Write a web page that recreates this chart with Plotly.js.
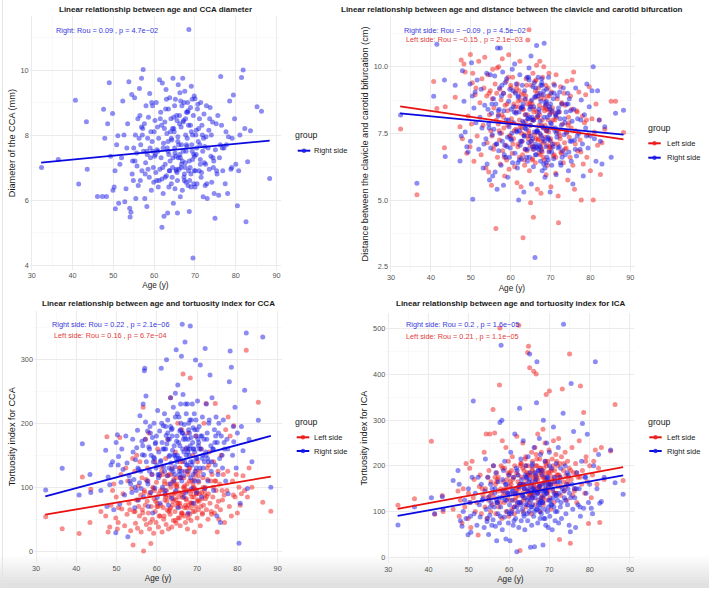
<!DOCTYPE html>
<html>
<head>
<meta charset="utf-8">
<script src="https://cdn.plot.ly/plotly-3.0.1.min.js"></script>
<style>html,body{margin:0;padding:0;background:#fff}#chart{width:709px;height:590px}</style>
</head>
<body>
<div id="chart"></div>
<script>
// ---------------- DATA ----------------
const age = [
 32.4, 36.5, 40.7, 41.5, 43.4, 43.6, 46.1, 47.3, 47.6, 47.9,
 48.3, 48.6, 49.0, 49.3, 49.8, 49.9, 50.2, 50.5, 50.8, 51.1,
 51.3, 51.6, 52.0, 52.3, 52.6, 52.8, 53.1, 53.5, 53.8, 54.0,
 54.1, 54.3, 54.5, 54.7, 54.9, 55.0, 55.2, 55.4, 55.5, 55.7,
 55.8, 56.0, 56.1, 56.3, 56.4, 56.6, 56.7, 56.9, 57.0, 57.2,
 57.3, 57.4, 57.6, 57.7, 57.9, 58.0, 58.2, 58.3, 58.5, 58.6,
 58.8, 58.9, 59.0, 59.2, 59.3, 59.5, 59.6, 59.8, 59.9, 60.1,
 60.2, 60.4, 60.5, 60.7, 60.8, 61.0, 61.1, 61.3, 61.4, 61.6,
 61.7, 61.9, 62.0, 62.2, 62.3, 62.4, 62.6, 62.7, 62.9, 63.0,
 63.1, 63.3, 63.4, 63.5, 63.7, 63.8, 63.9, 64.1, 64.2, 64.3,
 64.5, 64.6, 64.7, 64.8, 65.0, 65.1, 65.2, 65.3, 65.5, 65.6,
 65.7, 65.8, 65.9, 66.1, 66.2, 66.3, 66.4, 66.5, 66.7, 66.8,
 66.9, 67.0, 67.1, 67.2, 67.3, 67.5, 67.6, 67.7, 67.8, 67.9,
 68.0, 68.2, 68.3, 68.4, 68.5, 68.6, 68.8, 68.9, 69.0, 69.1,
 69.2, 69.3, 69.5, 69.6, 69.7, 69.9, 70.0, 70.1, 70.3, 70.4,
 70.5, 70.7, 70.8, 71.0, 71.1, 71.3, 71.4, 71.6, 71.7, 71.9,
 72.0, 72.2, 72.3, 72.5, 72.7, 72.8, 73.0, 73.2, 73.4, 73.5,
 73.7, 73.9, 74.1, 74.3, 74.5, 74.7, 74.9, 75.0, 75.2, 75.4,
 75.6, 75.8, 76.0, 76.3, 76.5, 76.8, 77.1, 77.4, 77.7, 78.0,
 78.2, 78.5, 78.8, 79.1, 79.4, 79.7, 80.0, 80.4, 80.7, 81.0,
 81.4, 81.8, 82.2, 82.5, 82.9, 83.6, 85.2, 86.3, 88.3,
 63.6, 64.9, 65.4, 66.0, 66.6, 67.4, 68.1, 68.7, 69.4, 70.2,
 60.9, 62.5, 64.4, 65.9, 67.7, 69.8, 71.2, 72.6, 74.0, 76.7,
 55.3, 56.5, 57.8, 58.4, 59.4, 60.3, 61.2, 61.8, 62.1, 62.8,
 63.2, 63.6, 64.0, 64.6, 65.0, 65.4, 65.8, 66.3, 66.7, 67.1,
 67.4, 67.8, 68.2, 68.6, 69.0, 69.4, 69.8, 70.3, 70.9, 71.5,
 72.1, 72.9, 73.6, 74.4, 75.3, 76.2, 77.6, 79.0, 50.4, 53.3,
 57.1, 59.1, 60.6, 61.5, 62.2, 63.0, 63.8, 64.5, 65.1, 65.7,
 66.2, 66.9, 67.3, 67.9, 68.4, 68.9, 69.3, 70.0, 70.6, 71.3,
 58.2, 60.0, 62.7, 64.2, 65.6, 66.6, 68.3, 69.7, 71.8, 74.6,
 54.6, 56.9, 59.7, 61.9, 63.4, 64.8, 66.4, 67.6, 69.1, 72.4
];

// Panel 1: CCA diameter (mm), right side
const ccaDiameterRight = [
 7.0, 7.25, 9.07, 6.49, 8.41, 6.95, 6.11, 6.11, 8.79, 7.9,
 6.11, 8.35, 9.61, 7.35, 8.66, 6.3, 6.4, 5.73, 7.7, 7.98,
 5.9, 7.1, 7.3, 9.05, 8.0, 5.95, 6.35, 8.35, 9.64, 5.75,
 5.48, 5.62, 9.25, 7.2, 6.6, 7.6, 9.15, 8.0, 6.05, 7.45,
 7.05, 8.5, 6.45, 7.9, 9.43, 6.6, 7.7, 9.75, 6.9, 8.2,
 10.02, 7.5, 8.35, 6.05, 7.15, 8.9, 5.8, 7.4, 6.95, 8.55,
 6.7, 9.28, 7.6, 8.1, 6.3, 7.8, 8.9, 7.0, 6.55, 7.35,
 8.45, 6.85, 9.0, 7.55, 8.25, 6.4, 7.9, 9.7, 6.95, 8.7,
 7.3, 5.16, 9.6, 6.2, 7.75, 5.5, 8.4, 7.1, 9.4, 6.75,
 8.05, 5.6, 7.5, 8.8, 6.9, 9.15, 7.2, 8.5, 6.5, 7.85,
 7.0, 9.75, 5.9, 8.2, 7.6, 6.35, 9.1, 7.35, 8.6, 6.85,
 5.6, 7.95, 9.55, 6.95, 8.35, 7.4, 6.1, 9.05, 7.7, 8.9,
 6.3, 9.75, 7.5, 8.45, 6.7, 9.35, 7.15, 8.0, 6.55, 8.7,
 7.65, 9.0, 6.45, 8.3, 11.25, 5.65, 7.0, 8.85, 6.4, 9.5,
 7.7, 9.1, 4.22, 8.6, 6.5, 7.35, 9.12, 6.9, 8.15, 7.6,
 6.5, 8.95, 7.8, 6.9, 8.5, 7.25, 9.0, 6.85, 8.3, 7.5,
 6.1, 8.65, 7.15, 6.45, 7.95, 8.9, 6.05, 7.6, 8.15, 6.95,
 8.85, 7.35, 6.55, 8.4, 7.0, 6.2, 5.44, 7.55, 8.35, 6.8,
 8.6, 6.15, 7.3, 9.8, 8.3, 6.9, 7.6, 6.5, 7.7, 6.2,
 7.95, 9.05, 6.95, 7.9, 9.23, 8.5, 7.1, 5.82, 6.9, 8.0,
 9.77, 10.0, 8.2, 5.33, 7.18, 8.13, 8.87, 8.73, 6.66,
 7.4, 8.1, 6.95, 7.7, 8.25, 6.8, 7.9, 6.6, 7.25, 8.0,
 7.5, 8.2, 6.7, 7.3, 8.5, 6.9, 7.7, 7.1, 8.0, 7.6,
 7.2, 8.6, 6.8, 7.9, 9.0, 7.4, 6.6, 8.3, 7.0, 8.8,
 7.6, 6.4, 8.1, 7.3, 8.9, 6.9, 7.8, 9.3, 7.1, 8.4,
 6.6, 7.5, 8.7, 7.2, 6.8, 8.0, 9.2, 7.4, 8.2, 6.7,
 7.9, 6.5, 8.5, 7.3, 6.9, 7.7, 8.1, 7.0, 6.9, 7.6,
 8.0, 7.3, 6.6, 8.5, 7.6, 9.1, 6.9, 8.2, 7.45, 6.6,
 8.6, 7.2, 9.0, 7.7, 6.9, 8.3, 7.5, 6.4, 8.8, 7.1,
 7.5, 8.1, 6.7, 7.9, 8.45, 7.0, 8.75, 7.4, 8.0, 7.2,
 6.8, 8.25, 7.5, 6.65, 7.8, 8.55, 7.3, 7.0, 8.1, 7.65
];

// Panel 2: distance clavicle - carotid bifurcation (cm)
const clavBifRight = [
 8.19, 5.63, 8.89, 10.84, 9.5, 6.63, 9.3, 6.46, 7.4, 9.85,
 8.7, 7.55, 7.0, 6.8, 9.35, 7.2, 10.15, 5.03, 8.45, 9.05,
 7.9, 9.5, 6.9, 8.1, 9.15, 7.7, 6.2, 8.55, 7.3, 9.75,
 6.35, 8.4, 7.85, 5.75, 9.7, 6.95, 8.25, 7.45, 5.9, 8.8,
 7.65, 9.65, 6.05, 8.6, 7.1, 5.4, 10.7, 8.15, 6.85, 9.2,
 7.5, 10.7, 6.3, 8.9, 7.2, 9.8, 5.55, 8.35, 7.05, 9.4,
 6.6, 8.0, 9.55, 7.35, 5.85, 8.7, 7.75, 9.15, 6.95, 8.4,
 7.25, 9.9, 6.4, 8.5, 7.9, 10.1, 6.75, 8.25, 9.35, 7.55,
 6.2, 8.85, 5.0, 7.6, 9.7, 7.05, 8.45, 6.55, 9.3, 7.95,
 8.6, 5.3, 7.4, 9.1, 6.9, 8.2, 7.65, 9.6, 6.45, 8.05,
 7.15, 9.95, 6.6, 8.4, 7.8, 10.4, 5.6, 8.75, 7.3, 9.25,
 6.25, 8.5, 9.4, 2.84, 7.1, 8.9, 6.7, 10.79, 7.55, 8.15,
 9.6, 6.9, 8.3, 7.05, 9.0, 6.45, 8.7, 7.4, 9.55, 6.1,
 7.75, 8.95, 6.35, 10.88, 7.2, 5.85, 8.55, 7.0, 9.15, 6.6,
 8.1, 7.35, 9.6, 6.8, 8.5, 5.3, 7.9, 9.0, 6.3, 8.35,
 7.1, 8.8, 6.55, 9.3, 7.6, 8.15, 5.95, 7.35, 8.9, 6.95,
 8.45, 7.0, 9.05, 6.4, 7.8, 8.6, 6.85, 9.2, 7.45, 8.05,
 6.7, 8.3, 7.55, 9.0, 6.1, 8.8, 7.2, 8.35, 6.45, 7.95,
 5.6, 8.4, 7.25, 9.2, 6.65, 8.05, 7.5, 6.9, 8.75, 7.1,
 5.9, 8.2, 7.7, 9.35, 6.95, 8.5, 7.4, 9.1, 10.0, 7.3,
 6.45, 9.1, 8.0, 7.2, 6.35, 7.75, 6.6, 8.25, 8.37,
 7.7, 8.5, 7.0, 8.85, 6.95, 7.95, 7.3, 8.65, 6.5, 7.85,
 8.3, 7.2, 8.05, 7.55, 6.85, 8.4, 7.7, 6.3, 8.6, 7.4,
 8.6, 7.1, 9.3, 6.7, 8.0, 7.5, 9.0, 6.4, 8.3, 7.2,
 7.9, 8.8, 6.6, 9.5, 7.4, 8.1, 6.9, 9.2, 7.6, 8.4,
 7.0, 9.4, 7.7, 6.2, 8.7, 7.3, 8.2, 6.8, 9.0, 7.5,
 8.3, 6.6, 7.9, 8.6, 7.2, 6.9, 8.0, 7.4, 8.9, 7.1,
 8.4, 7.0, 9.1, 7.6, 6.5, 8.5, 7.8, 9.6, 7.2, 8.0,
 6.7, 8.9, 7.5, 9.3, 8.1, 6.4, 7.7, 8.6, 7.0, 8.2,
 9.0, 7.3, 8.45, 6.9, 8.0, 7.6, 9.1, 7.25, 8.3, 6.8,
 7.7, 8.35, 6.6, 8.9, 7.4, 8.1, 7.0, 9.3, 7.6, 8.05
];
const clavBifLeft = [
 7.66, 5.2, 9.44, 8.43, 6.96, 8.5, 8.85, 7.75, 10.25, 7.3,
 10.1, 9.8, 6.75, 8.15, 7.0, 10.46, 7.85, 9.75, 6.45, 8.95,
 9.2, 7.4, 10.2, 8.65, 6.7, 9.55, 7.8, 10.35, 6.2, 8.9,
 7.15, 9.7, 6.05, 8.2, 9.1, 7.6, 5.55, 8.8, 9.9, 6.9,
 8.45, 7.05, 9.35, 3.93, 8.0, 9.95, 6.6, 7.85, 10.0, 7.25,
 9.15, 6.35, 8.75, 7.5, 10.3, 6.85, 9.0, 7.7, 5.9, 8.55,
 7.05, 9.45, 6.5, 8.35, 7.8, 10.45, 6.15, 8.9, 7.4, 9.2,
 8.05, 6.75, 9.6, 7.3, 8.6, 6.25, 9.05, 7.65, 8.3, 5.65,
 9.35, 7.1, 8.5, 6.6, 10.2, 7.75, 5.5, 8.95, 7.2, 8.4,
 3.58, 9.0, 7.45, 6.3, 8.75, 7.95, 9.55, 6.85, 8.2, 11.0,
 7.6, 11.38, 6.1, 8.6, 4.9, 9.3, 7.2, 8.0, 6.55, 9.75,
 4.35, 8.3, 7.0, 9.45, 6.4, 8.85, 7.55, 10.05, 5.4, 8.1,
 7.25, 9.2, 6.75, 8.55, 10.2, 7.45, 5.25, 8.95, 6.9, 8.0,
 9.6, 7.15, 10.0, 6.5, 8.35, 7.8, 9.3, 5.95, 8.6, 7.05,
 6.3, 8.9, 7.55, 9.75, 6.85, 8.25, 7.3, 5.5, 9.05, 7.7,
 8.45, 6.65, 9.35, 7.1, 8.0, 6.0, 9.7, 7.6, 8.8, 5.15,
 4.15, 8.3, 7.4, 9.25, 6.75, 8.65, 7.85, 6.4, 9.0, 7.15,
 8.55, 6.95, 9.45, 5.75, 8.1, 7.35, 6.6, 8.9, 7.7, 9.5,
 6.3, 9.8, 5.4, 7.6, 8.35, 6.85, 9.05, 7.25, 5.0, 8.15,
 6.35, 7.9, 8.95, 6.6, 7.45, 9.25, 6.1, 8.05, 5.0, 7.55,
 8.6, 7.05, 8.0, 5.96, 7.15, 7.65, 8.7, 8.7, 7.53,
 8.2, 7.05, 8.6, 7.45, 8.1, 6.7, 8.45, 7.35, 8.0, 6.95,
 7.6, 8.75, 7.3, 8.4, 7.8, 7.0, 8.25, 6.8, 7.5, 8.3,
 7.4, 9.0, 8.2, 6.6, 9.6, 7.9, 8.5, 7.0, 9.1, 7.7,
 8.4, 6.9, 9.3, 7.5, 8.7, 6.5, 8.0, 7.3, 9.0, 7.8,
 8.8, 7.2, 6.6, 8.5, 7.6, 9.2, 7.0, 8.3, 6.7, 8.1,
 7.5, 8.6, 6.9, 7.8, 8.4, 7.1, 6.8, 8.0, 9.4, 9.2,
 7.6, 8.6, 7.1, 9.2, 8.0, 6.7, 8.9, 7.4, 8.5, 7.0,
 9.1, 7.3, 8.2, 6.8, 8.8, 7.6, 8.4, 7.2, 8.0, 6.6,
 8.1, 9.3, 7.5, 8.6, 6.9, 8.3, 7.7, 8.9, 7.1, 7.9,
 9.0, 8.2, 7.4, 8.7, 6.5, 7.8, 9.5, 7.0, 8.4, 7.3
];

// Panel 3: tortuosity index for CCA
const ccaTortRight = [
 95.8, 129.7, 88, 168, 120, 91.7, 95, 158, 70, 116,
 104, 135, 140, 65, 29, 170, 182, 148, 74, 108,
 160, 128, 88, 180, 138, 22.9, 118, 105, 92, 175,
 155, 112, 68, 143, 95, 162, 189, 80, 128, 107,
 212, 125, 98, 172, 151, 230, 85, 282, 286, 202,
 242.7, 140, 110, 188, 70, 163, 125, 195, 92, 150,
 120, 178, 60, 147, 200, 99, 168, 130, 180, 84,
 220, 115, 155, 188, 75, 142, 286, 170, 100, 196,
 132, 215, 90, 160, 181, 299.5, 118, 205, 72, 148,
 175, 105, 240, 138, 83, 192, 158, 225, 110, 165,
 132, 247, 95, 315, 180, 150, 260, 68, 210, 125,
 188, 145, 230, 305, 110, 355, 160, 245, 85, 198,
 140, 327, 175, 92, 215, 125, 230, 160, 60, 190,
 150, 205, 352, 115, 178, 98, 230, 140, 193, 75,
 160, 215, 125, 299, 180, 92, 145, 235, 110, 170,
 195, 130, 291, 160, 85, 210, 150, 120, 175, 98,
 317, 150, 230, 185, 110, 140, 205, 275.5, 165, 125,
 240, 160, 95, 190, 135, 210, 55, 170, 120, 200,
 145, 45, 180, 130, 205, 160, 110, 175, 90, 265,
 313, 287.5, 150, 171, 225, 130, 185, 12.5, 75, 195,
 157, 251.6, 341, 98, 175, 140, 204.7, 335, 100,
 128, 172, 145, 200, 118, 162, 185, 135, 155, 175,
 140, 168, 120, 190, 155, 130, 180, 145, 160, 170,
 130, 165, 105, 185, 145, 120, 200, 160, 95, 175,
 150, 190, 125, 210, 140, 170, 115, 185, 155, 230,
 135, 175, 160, 205, 120, 190, 145, 165, 180, 130,
 155, 200, 140, 170, 185, 150, 160, 195, 135, 110,
 175, 140, 120, 160, 195, 130, 180, 150, 215, 165,
 125, 180, 150, 200, 140, 170, 110, 190, 160, 145,
 160, 135, 185, 150, 120, 175, 165, 205, 140, 180,
 100, 150, 170, 125, 195, 145, 185, 135, 160, 175
];
const ccaTortLeft = [
 54, 35.4, 27.6, 116, 44.8, 97, 62, 55, 179, 30,
 38, 72, 95, 105, 52, 85, 35, 68, 178, 120,
 66, 90, 40, 130, 58, 110, 75, 32, 98, 145,
 10, 62, 125, 44, 80, 150, 36, 102, 70, 55,
 140, 88, 30, 115, 65, 225, 0.5, 95, 50, 175,
 112, 42, 78, 130, 60, 185, 35, 92, 12, 70,
 120, 50, 100, 28, 82, 140, 62, 45, 108, 75,
 160, 38, 90, 118, 55, 72, 132, 30, 96, 68,
 50, 110, 80, 145, 42, 95, 64, 175, 35, 120,
 85, 58, 240, 100, 38, 130, 72, 48, 112, 90,
 62, 155, 80, 44, 105, 70, 200, 52, 92, 130,
 75, 40, 115, 60, 190, 88, 140, 277, 55, 98,
 68, 125, 45, 160, 82, 105, 35, 185, 72, 95,
 130, 58, 271, 90, 48, 110, 75, 150, 62, 100,
 85, 30, 120, 70, 180, 95, 52, 140, 65, 108,
 78, 125, 40, 160, 92, 58, 115, 72, 200, 88,
 100, 231, 65, 130, 50, 90, 155, 75, 110, 62,
 120, 85, 140, 60, 231, 95, 70, 30, 125, 50,
 105, 65, 150, 80, 120, 45, 190, 95, 210, 70,
 180, 55, 110, 196, 85, 120, 60, 100, 72, 90,
 118, 95, 314, 85, 130, 100, 233, 76.6, 62.5,
 88, 102, 75, 115, 92, 68, 110, 85, 98, 80,
 95, 78, 105, 70, 120, 90, 82, 112, 100, 88,
 80, 60, 110, 45, 95, 70, 125, 55, 88, 105,
 65, 120, 78, 48, 100, 85, 140, 60, 115, 72,
 95, 52, 130, 75, 105, 62, 90, 118, 70, 100,
 82, 135, 58, 110, 78, 95, 125, 88, 45, 65,
 72, 98, 55, 120, 85, 62, 108, 92, 75, 130,
 58, 102, 80, 125, 68, 95, 112, 78, 90, 60,
 88, 70, 118, 82, 52, 100, 76, 125, 95, 110,
 62, 92, 78, 105, 68, 115, 84, 58, 98, 86
];

// Panel 4: tortuosity index for ICA
const icaTortRight = [
 70.7, 110, 130, 95, 132.6, 105, 168, 190, 160, 80,
 68, 100, 125, 85, 49, 150, 120, 55, 175, 342,
 95, 140, 70, 175, 115, 88, 160, 128, 65, 145,
 215, 105, 78, 175, 50, 132, 92, 160, 120, 70,
 150, 82, 200, 110, 140, 68, 185, 36, 120, 95,
 165, 130, 75, 295, 110, 464, 300, 60, 145, 190,
 88, 210, 125, 40, 160, 100, 140, 75, 180, 115,
 36, 230, 95, 150, 125, 70, 175, 110, 270, 85,
 140, 12, 190, 100, 155, 65, 326, 120, 215, 80,
 170, 105, 135, 255, 90, 150, 60, 200, 115, 175,
 125, 80, 220, 145, 100, 445, 185, 22, 160, 70,
 200, 115, 150, 90, 240, 23, 165, 130, 105, 338,
 428, 140, 75, 190, 115, 260, 155, 85, 225, 130,
 95, 180, 120, 27, 300, 145, 105, 210, 160, 70,
 140, 250, 100, 175, 65, 125, 230, 90, 160, 115,
 195, 60, 150, 285, 110, 175, 80, 135, 205, 100,
 125, 240, 75, 165, 110, 195, 85, 150, 315, 510,
 130, 200, 95, 160, 115, 180, 70, 140, 56, 380,
 160, 105, 275, 130, 65, 185, 115, 150, 90, 210,
 293, 107, 175, 140, 269, 120, 160, 107, 95, 200,
 428, 150, 225, 118, 122, 175, 235, 163, 138,
 130, 165, 110, 150, 180, 120, 145, 135, 170, 125,
 145, 120, 160, 135, 110, 155, 140, 175, 125, 150,
 110, 150, 90, 170, 125, 140, 80, 195, 120, 160,
 135, 95, 180, 115, 150, 125, 205, 100, 170, 140,
 155, 120, 190, 85, 145, 175, 110, 160, 130, 100,
 165, 120, 145, 185, 130, 150, 110, 175, 90, 125,
 120, 160, 100, 140, 180, 115, 150, 95, 170, 130,
 145, 105, 190, 125, 160, 85, 140, 200, 115, 165,
 130, 95, 155, 175, 110, 145, 120, 165, 135, 150,
 85, 125, 140, 110, 160, 130, 185, 100, 150, 140
];
const icaTortLeft = [
 113.7, 128, 254, 94, 135, 100, 105, 145, 90, 125,
 75, 150, 110, 205, 85, 140, 195, 65, 210, 130,
 170, 100, 120, 48.8, 155, 180, 95, 135, 230, 110,
 150, 270, 85, 175, 125, 190, 270, 100, 165, 140,
 115, 323.6, 200, 130, 272, 160, 95, 185, 120, 145,
 175, 110, 376.8, 502, 150, 200, 85, 255, 135, 165,
 120, 195, 150, 240, 100, 170, 130, 210, 90, 155,
 185, 125, 160, 105, 220, 140, 175, 95, 200, 130,
 150, 265, 115, 180, 135, 508, 160, 15, 205, 120,
 175, 140, 250, 100, 190, 160, 130, 220, 110, 170,
 145, 448, 200, 462, 120, 415, 180, 155, 95, 230,
 165, 210, 130, 407, 185, 150, 240, 115, 401, 175,
 200, 140, 270, 125, 180, 155, 215, 100, 190, 160,
 230, 135, 175, 280, 115, 195, 150, 250, 170, 125,
 356, 185, 140, 210, 160, 235, 364, 130, 190, 105,
 170, 215, 145, 255, 120, 190, 160, 225, 140, 180,
 200, 155, 260, 38.6, 175, 135, 220, 368, 165, 190,
 145, 230, 180, 125, 210, 160, 195, 445, 30.6, 170,
 240, 135, 185, 150, 205, 120, 175, 255, 375, 160,
 190, 317, 140, 220, 165, 74, 200, 130, 180, 210,
 235, 160, 195, 76, 240, 170, 232.5, 334.5, 168,
 160, 185, 140, 175, 200, 150, 190, 165, 145, 180,
 170, 150, 185, 140, 195, 160, 175, 205, 155, 185,
 135, 175, 120, 195, 150, 165, 110, 185, 140, 200,
 160, 125, 215, 145, 180, 135, 190, 155, 225, 170,
 150, 195, 130, 175, 210, 145, 185, 160, 200, 140,
 180, 155, 205, 165, 190, 145, 175, 210, 120, 150,
 170, 140, 190, 125, 165, 205, 150, 180, 135, 195,
 155, 215, 145, 185, 130, 175, 200, 160, 190, 165,
 145, 180, 160, 200, 140, 170, 185, 150, 210, 175,
 130, 165, 185, 150, 195, 140, 175, 160, 205, 180
];

// Fitted regression lines (end points)
const fitAge = [32.3, 88.3];
const fitCcaDiameterRight = [7.15, 7.83];
const fitClavBifRight = [8.25, 7.45];
const fitClavBifLeft = [8.51, 7.275];
const fitCcaTortRight = [85.9, 180.2];
const fitCcaTortLeft = [57.3, 116.7];
const fitIcaTortRight = [90.4, 179.3];
const fitIcaTortLeft = [105.7, 197.5];

// Text
const panelTitles = [
 'Linear relationship between age and CCA diameter',
 'Linear relationship between age and distance between the clavicle and carotid bifurcation',
 'Linear relationship between age and tortuosity index for CCA',
 'Linear relationship between age and tortuosity index for ICA'
];
const yTitles = [
 'Diameter of the CCA (mm)',
 'Distance between the clavicle and carotid bifurcation (cm)',
 'Tortuosity index for CCA',
 'Tortuosity index for ICA'
];
const xTitle = 'Age (y)';
const groupTitle = 'group';
const groupLabels = ['Left side', 'Right side'];
const statRight = [
 'Right: Rou = 0.09 , p = 4.7e\u221202',
 'Right side: Rou = \u22120.09 , p = 4.5e\u221202',
 'Right side: Rou = 0.22 , p = 2.1e\u221206',
 'Right side: Rou = 0.2 , p = 1.6e\u221205'
];
const statLeft = [
 null,
 'Left side: Rou = \u22120.15 , p = 2.1e\u221203',
 'Left side: Rou = 0.16 , p = 6.7e\u221204',
 'Left side: Rou = 0.21 , p = 1.1e\u221205'
];
const ageTicks = [30, 40, 50, 60, 70, 80, 90];
const yTicks = [[4, 6, 8, 10], [2.5, 5, 7.5, 10], [0, 100, 200, 300], [0, 100, 200, 300, 400, 500]];
const yTickText = [['4', '6', '8', '10'], ['2.5', '5.0', '7.5', '10.0'], ['0', '100', '200', '300'], ['0', '100', '200', '300', '400', '500']];

// ---------------- LAYOUT / STYLE ----------------
const W = 709, H = 590;
const px = v => v / W;
const py = v => 1 - v / H;
const FONT = '"Liberation Sans", Arial, Helvetica, sans-serif';
const BLUE = '#1a1ae8', RED = '#f01c1c';
const BLUE_LINE = '#0a0ae0', RED_LINE = '#e81010';
const BLUE_TXT = '#3636dc', RED_TXT = '#e23c3c';

const panels = [
 {xd: [29.7, 281.1], yd: [16.4, 269.9], yr: [3.85, 11.65], yMinor: [5, 7, 9, 11],
  series: [{y: ccaDiameterRight, fit: fitCcaDiameterRight, c: BLUE, lc: BLUE_LINE}],
  statY: [11.21, null], titleX: 155.4, titleY: 10,
  leg: {gx: 295, gy: 135, lx: [297.7, 310.3], tx: 313.5, items: [[1, 150.7]]}},
 {xd: [389, 634.7], yd: [16, 272], yr: [2.3, 11.9], yMinor: [3.75, 6.25, 8.75, 11.25],
  series: [{y: clavBifLeft, fit: fitClavBifLeft, c: RED, lc: RED_LINE}, {y: clavBifRight, fit: fitClavBifRight, c: BLUE, lc: BLUE_LINE}],
  statY: [11.35, 11.03], titleX: 512, titleY: 10,
  leg: {gx: 647.7, gy: 128.3, lx: [648.3, 660.7], tx: 666.5, items: [[0, 143.3], [1, 157.7]]}},
 {xd: [34, 282.1], yd: [310.7, 562.8], yr: [-18, 376], yMinor: [50, 150, 250, 350],
  series: [{y: ccaTortLeft, fit: fitCcaTortLeft, c: RED, lc: RED_LINE}, {y: ccaTortRight, fit: fitCcaTortRight, c: BLUE, lc: BLUE_LINE}],
  statY: [355, 337.5], titleX: 158.3, titleY: 303.3,
  leg: {gx: 295, gy: 421.7, lx: [296.7, 309.3], tx: 314, items: [[0, 437.3], [1, 451]]}},
 {xd: [386.3, 634.4], yd: [312.8, 563.2], yr: [-13, 535], yMinor: [50, 150, 250, 350, 450],
  series: [{y: icaTortLeft, fit: fitIcaTortLeft, c: RED, lc: RED_LINE}, {y: icaTortRight, fit: fitIcaTortRight, c: BLUE, lc: BLUE_LINE}],
  statY: [510, 484], titleX: 510.8, titleY: 303.3,
  leg: {gx: 647.7, gy: 421.7, lx: [649.3, 661.7], tx: 666.7, items: [[0, 437.3], [1, 451]]}}
];

const data = [];
const layout = {
 width: W, height: H,
 margin: {l: 0, r: 0, t: 0, b: 0},
 paper_bgcolor: '#ffffff', plot_bgcolor: 'rgba(0,0,0,0)',
 showlegend: false,
 font: {family: FONT, color: '#1a1a1a'},
 annotations: [], shapes: []
};

// soft grey band at the bottom of the picture
for (let i = 0; i < 10; i++) {
 layout.shapes.push({type: 'rect', xref: 'paper', yref: 'paper', layer: 'below',
  x0: 0, x1: 1, y0: py(588), y1: py(556 + 3 * i), line: {width: 0}, fillcolor: 'rgba(0,0,0,0.013)'});
}
layout.shapes.push({type: 'line', xref: 'paper', yref: 'paper', layer: 'below',
 x0: px(2.5), x1: px(2.5), y0: py(588), y1: py(0), line: {color: '#e4e4e4', width: 1}});

panels.forEach((p, i) => {
 const n = i === 0 ? '' : String(i + 1);
 const xa = 'x' + n, ya = 'y' + n;
 layout['xaxis' + n] = {
  domain: [px(p.xd[0]), px(p.xd[1])], range: [29.5, 91.1], anchor: ya,
  tickmode: 'array', tickvals: ageTicks, ticks: '', showline: false, zeroline: false,
  showgrid: true, gridcolor: '#e9e9e9', gridwidth: 0.9,
  minor: {tickmode: 'array', tickvals: [35, 45, 55, 65, 75, 85], showgrid: true, gridcolor: '#f4f4f4', gridwidth: 0.5, ticks: ''},
  tickfont: {family: FONT, size: 7.3, color: '#555555'},
  title: {text: xTitle, font: {family: FONT, size: 8.2, color: '#1a1a1a'}, standoff: 3},
  fixedrange: true
 };
 layout['yaxis' + n] = {
  domain: [py(p.yd[1]), py(p.yd[0])], range: p.yr, anchor: xa,
  tickmode: 'array', tickvals: yTicks[i], ticktext: yTickText[i], ticks: '', showline: false, zeroline: false,
  showgrid: true, gridcolor: '#e9e9e9', gridwidth: 0.9,
  minor: {tickmode: 'array', tickvals: p.yMinor, showgrid: true, gridcolor: '#f4f4f4', gridwidth: 0.5, ticks: ''},
  tickfont: {family: FONT, size: 7.3, color: '#555555'},
  title: {text: yTitles[i], font: {family: FONT, size: 9.2, color: '#1a1a1a'}, standoff: 3},
  fixedrange: true
 };
 p.series.forEach(s => {
  data.push({type: 'scatter', mode: 'markers', x: age, y: s.y, xaxis: xa, yaxis: ya,
   marker: {color: s.c, size: 5, opacity: 0.5, line: {width: 0}}, hoverinfo: 'skip'});
 });
 p.series.forEach(s => {
  data.push({type: 'scatter', mode: 'lines', x: fitAge, y: s.fit, xaxis: xa, yaxis: ya,
   line: {color: s.lc, width: 1.8}, hoverinfo: 'skip'});
 });
 // panel title
 layout.annotations.push({xref: 'paper', yref: 'paper', x: px(p.titleX), y: py(p.titleY),
  xanchor: 'center', yanchor: 'middle', showarrow: false, borderpad: 0, borderwidth: 0,
  text: '<b>' + panelTitles[i] + '</b>', font: {family: FONT, size: 8, color: '#1a1a1a'}});
 // statistics text
 layout.annotations.push({xref: xa, yref: ya, x: 48.5, y: p.statY[0], xanchor: 'center', yanchor: 'middle',
  showarrow: false, borderpad: 0, borderwidth: 0, text: statRight[i], font: {family: FONT, size: 7.3, color: BLUE_TXT}});
 if (statLeft[i]) {
  layout.annotations.push({xref: xa, yref: ya, x: 48.5, y: p.statY[1], xanchor: 'center', yanchor: 'middle',
   showarrow: false, borderpad: 0, borderwidth: 0, text: statLeft[i], font: {family: FONT, size: 7.3, color: RED_TXT}});
 }
 // legend
 const L = p.leg;
 layout.annotations.push({xref: 'paper', yref: 'paper', x: px(L.gx), y: py(L.gy), xanchor: 'left', yanchor: 'middle',
  showarrow: false, borderpad: 0, borderwidth: 0, text: groupTitle, font: {family: FONT, size: 8.8, color: '#1a1a1a'}});
 L.items.forEach(([g, yy]) => {
  const col = g === 0 ? RED_LINE : BLUE_LINE;
  layout.shapes.push({type: 'line', xref: 'paper', yref: 'paper', x0: px(L.lx[0]), x1: px(L.lx[1]), y0: py(yy), y1: py(yy),
   line: {color: col, width: 2}});
  const cx = (L.lx[0] + L.lx[1]) / 2, r = 2.2;
  layout.shapes.push({type: 'circle', xref: 'paper', yref: 'paper', x0: px(cx - r), x1: px(cx + r), y0: py(yy + r), y1: py(yy - r),
   line: {width: 0}, fillcolor: g === 0 ? RED : BLUE, opacity: 0.8});
  layout.annotations.push({xref: 'paper', yref: 'paper', x: px(L.tx), y: py(yy), xanchor: 'left', yanchor: 'middle',
   showarrow: false, borderpad: 0, borderwidth: 0, text: groupLabels[g], font: {family: FONT, size: 7.5, color: '#1a1a1a'}});
 });
});

Plotly.newPlot('chart', data, layout, {displayModeBar: false, staticPlot: true});
</script>
</body>
</html>
